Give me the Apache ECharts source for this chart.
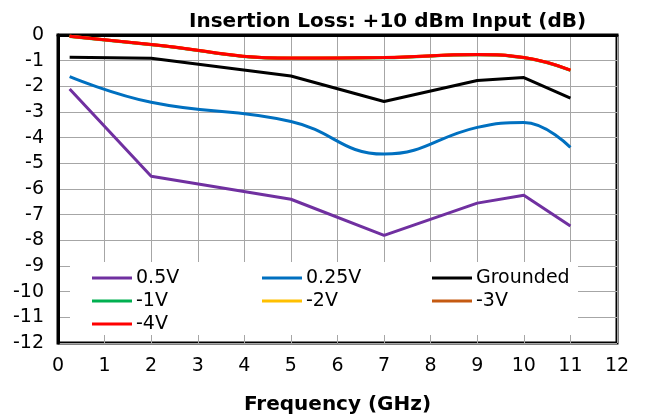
<!DOCTYPE html>
<html>
<head>
<meta charset="utf-8">
<script src="https://cdn.jsdelivr.net/npm/echarts@6/dist/echarts.min.js"></script>
<style>
html,body{margin:0;padding:0;background:#fff;}
#chart{width:646px;height:420px;}
</style>
</head>
<body>
<div id="chart"></div>
<script>
const freqs = [0.25, 2, 5, 7, 9, 10, 11];
const v05 = [-2.10, -5.50, -6.40, -7.81, -6.55, -6.24, -7.44];
const v025 = [-1.62, -2.62, -3.37, -4.64, -3.60, -3.41, -4.38];
const vGnd = [-0.87, -0.91, -1.60, -2.59, -1.77, -1.66, -2.46];
const vm1 = [-0.06, -0.38, -0.91, -0.89, -0.77, -0.89, -1.38];
const vm2 = [-0.05, -0.37, -0.90, -0.88, -0.76, -0.88, -1.37];
const vm3 = [-0.05, -0.37, -0.91, -0.88, -0.77, -0.88, -1.37];
const vm4 = [-0.05, -0.37, -0.90, -0.88, -0.76, -0.88, -1.37];
const seriesNames = ['0.5V', '0.25V', 'Grounded', '-1V', '-2V', '-3V', '-4V'];
const seriesColors = ['#7030A0', '#0070C0', '#000000', '#00B050', '#FFC000', '#C55A11', '#FF0000'];
const seriesValues = [v05, v025, vGnd, vm1, vm2, vm3, vm4];
const seriesSmooth = [false, true, false, true, true, true, true];

const chart = echarts.init(document.getElementById('chart'), null, {renderer: 'canvas'});
const font = 'DejaVu Sans';
const series = seriesNames.map((n, i) => ({
  name: n,
  type: 'line',
  data: freqs.map((f, j) => [f, seriesValues[i][j]]),
  smooth: seriesSmooth[i] ? 0.45 : false,
  showSymbol: false,
  symbol: 'none',
  lineStyle: {color: seriesColors[i], width: 3},
  itemStyle: {color: seriesColors[i]},
  z: 5 + i
}));
const legendCommon = {
  orient: 'vertical',
  itemWidth: 40,
  itemHeight: 3,
  itemGap: 3,
  icon: 'rect',
  textStyle: {fontFamily: font, fontSize: 19, color: '#000', lineHeight: 20, padding: [0,0,0,-1]},
  padding: 0,
  top: 268,
  z: 10
};
const option = {
  backgroundColor: '#fff',
  animation: false,
  title: {
    text: 'Insertion Loss: +10 dBm Input (dB)',
    left: 184, top: 7,
    textStyle: {fontFamily: font, fontSize: 20, fontWeight: 'bold', color: '#000'}
  },
  grid: {left: 58, right: 29, top: 35, bottom: 75, show: true, borderColor: '#000', borderWidth: 3},
  xAxis: {
    type: 'value', min: 0, max: 12, interval: 1,
    name: 'Frequency (GHz)', nameLocation: 'middle', nameGap: 52,
    nameTextStyle: {fontFamily: font, fontSize: 20, fontWeight: 'bold', color: '#000'},
    axisLine: {show: true, lineStyle: {color: '#000', width: 3}},
    axisTick: {show: false},
    axisLabel: {fontFamily: font, fontSize: 19, color: '#000', margin: 14},
    splitLine: {show: true, lineStyle: {color: '#a6a6a6', width: 1}}
  },
  yAxis: {
    type: 'value', min: -12, max: 0, interval: 1,
    axisLine: {show: true, lineStyle: {color: '#000', width: 3}},
    axisTick: {show: false},
    axisLabel: {fontFamily: font, fontSize: 19, color: '#000', margin: 14},
    splitLine: {show: true, lineStyle: {color: '#a6a6a6', width: 1}}
  },
  graphic: [{
    type: 'rect', left: 70, top: 262, shape: {width: 508, height: 73},
    style: {fill: '#fff'}, z: 3
  }],
  legend: [
    Object.assign({}, legendCommon, {left: 92, data: ['0.5V', '-1V', '-4V']}),
    Object.assign({}, legendCommon, {left: 262, data: ['0.25V', '-2V']}),
    Object.assign({}, legendCommon, {left: 432, data: ['Grounded', '-3V']})
  ],
  series: series
};
chart.setOption(option);
</script>
</body>
</html>
